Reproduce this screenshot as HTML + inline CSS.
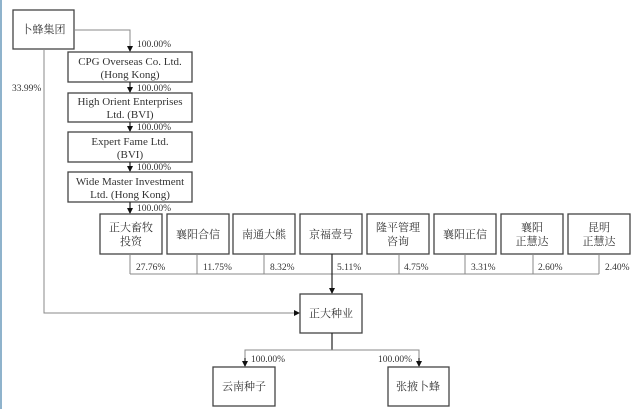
<!DOCTYPE html>
<html><head><meta charset="utf-8"><style>
html,body{margin:0;padding:0;background:#fff;}
svg{display:block}
text{font-family:"Liberation Serif","Noto Serif CJK SC",serif;fill:#333;}
.b{fill:#fff;stroke:#444;stroke-width:1.3}
.l{stroke:#888;stroke-width:1;fill:none}
.d{stroke:#222;stroke-width:1.2;fill:none}
.p{font-size:9.5px}
.e{font-size:11px}
.c{font-size:11px}
</style></head><body>
<svg width="640" height="409" viewBox="0 0 640 409" xmlns="http://www.w3.org/2000/svg">
<defs><marker id="a" markerWidth="6" markerHeight="6" refX="5" refY="3" orient="auto" markerUnits="userSpaceOnUse"><path d="M0,0 L6,3 L0,6z" fill="#111"/></marker></defs>
<rect x="0" y="0" width="2" height="409" fill="#8fb3cc"/>
<!-- top chain -->
<rect class="b" x="13" y="10" width="61" height="39"/>
<text class="c" x="43.5" y="33" text-anchor="middle">卜蜂集团</text>
<polyline class="l" points="74,30 130,30 130,51" marker-end="url(#a)"/>
<text class="p" x="137" y="47">100.00%</text>
<rect class="b" x="68" y="52" width="124" height="30"/>
<text class="e" x="130" y="65" text-anchor="middle">CPG Overseas Co. Ltd.</text>
<text class="e" x="130" y="78" text-anchor="middle">(Hong Kong)</text>
<line class="d" x1="130" y1="82" x2="130" y2="92" marker-end="url(#a)"/>
<text class="p" x="137" y="91">100.00%</text>
<rect class="b" x="68" y="93" width="124" height="29"/>
<text class="e" x="130" y="105" text-anchor="middle">High Orient Enterprises</text>
<text class="e" x="130" y="118" text-anchor="middle">Ltd. (BVI)</text>
<line class="d" x1="130" y1="122" x2="130" y2="131" marker-end="url(#a)"/>
<text class="p" x="137" y="130">100.00%</text>
<rect class="b" x="68" y="132" width="124" height="30"/>
<text class="e" x="130" y="145" text-anchor="middle">Expert Fame Ltd.</text>
<text class="e" x="130" y="158" text-anchor="middle">(BVI)</text>
<line class="d" x1="130" y1="162" x2="130" y2="171" marker-end="url(#a)"/>
<text class="p" x="137" y="170">100.00%</text>
<rect class="b" x="68" y="172" width="124" height="30"/>
<text class="e" x="130" y="185" text-anchor="middle">Wide Master Investment</text>
<text class="e" x="130" y="198" text-anchor="middle">Ltd. (Hong Kong)</text>
<line class="d" x1="130" y1="202" x2="130" y2="213" marker-end="url(#a)"/>
<text class="p" x="137" y="211">100.00%</text>
<!-- left line -->
<polyline class="l" points="44,49 44,313 299,313" marker-end="url(#a)"/>
<text class="p" x="12" y="91">33.99%</text>
<!-- row boxes -->
<g>
<rect class="b" x="100" y="214" width="62" height="40"/>
<text class="c" x="131" y="231" text-anchor="middle">正大畜牧</text>
<text class="c" x="131" y="245" text-anchor="middle">投资</text>
<rect class="b" x="167" y="214" width="62" height="40"/>
<text class="c" x="198" y="238" text-anchor="middle">襄阳合信</text>
<rect class="b" x="233" y="214" width="62" height="40"/>
<text class="c" x="264" y="238" text-anchor="middle">南通大熊</text>
<rect class="b" x="300" y="214" width="62" height="40"/>
<text class="c" x="331" y="238" text-anchor="middle">京福壹号</text>
<rect class="b" x="367" y="214" width="62" height="40"/>
<text class="c" x="398" y="231" text-anchor="middle">隆平管理</text>
<text class="c" x="398" y="245" text-anchor="middle">咨询</text>
<rect class="b" x="434" y="214" width="62" height="40"/>
<text class="c" x="465" y="238" text-anchor="middle">襄阳正信</text>
<rect class="b" x="501" y="214" width="62" height="40"/>
<text class="c" x="532" y="231" text-anchor="middle">襄阳</text>
<text class="c" x="532" y="245" text-anchor="middle">正慧达</text>
<rect class="b" x="568" y="214" width="62" height="40"/>
<text class="c" x="599" y="231" text-anchor="middle">昆明</text>
<text class="c" x="599" y="245" text-anchor="middle">正慧达</text>
</g>
<path class="l" d="M130,254V274M197,254V274M264,254V274M399,254V274M465,254V274M533,254V274M599,254V274M130,274H599"/>
<line class="d" x1="332" y1="254" x2="332" y2="293" marker-end="url(#a)"/>
<text class="p" x="136" y="270">27.76%</text>
<text class="p" x="203" y="270">11.75%</text>
<text class="p" x="270" y="270">8.32%</text>
<text class="p" x="337" y="270">5.11%</text>
<text class="p" x="404" y="270">4.75%</text>
<text class="p" x="471" y="270">3.31%</text>
<text class="p" x="538" y="270">2.60%</text>
<text class="p" x="605" y="270">2.40%</text>
<rect class="b" x="300" y="294" width="62" height="39"/>
<text class="c" x="331" y="317" text-anchor="middle">正大种业</text>
<line class="d" x1="332" y1="333" x2="332" y2="350"/>
<polyline class="l" points="245,366 245,350 419,350 419,366"/>
<line class="d" x1="245" y1="358" x2="245" y2="366" marker-end="url(#a)"/>
<line class="d" x1="419" y1="358" x2="419" y2="366" marker-end="url(#a)"/>
<text class="p" x="251" y="362">100.00%</text>
<text class="p" x="378" y="362">100.00%</text>
<rect class="b" x="213" y="367" width="62" height="39"/>
<text class="c" x="244" y="390" text-anchor="middle">云南种子</text>
<rect class="b" x="388" y="367" width="61" height="39"/>
<text class="c" x="418" y="390" text-anchor="middle">张掖卜蜂</text>
</svg>
</body></html>
